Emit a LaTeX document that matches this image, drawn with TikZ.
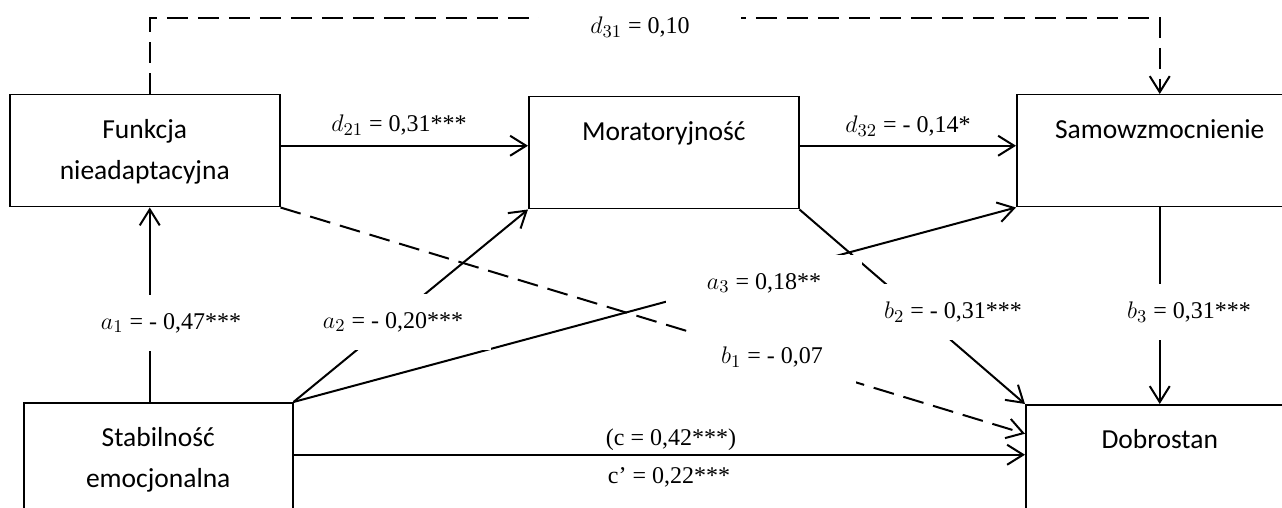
\documentclass[tikz,border=0pt]{standalone}
\usepackage{fontspec}
\setmainfont{Liberation Serif}
\newfontfamily\carlito{Carlito}
\usetikzlibrary{arrows.meta}
\DeclareMathSizes{12}{12}{9}{7}
\newcommand{\varfont}{\carlito\fontsize{13.75}{20.5}\selectfont}
\newcommand{\coeffont}{\fontsize{12}{14}\selectfont}
\tikzset{
  varblock/.style={rectangle,draw,line width=0.75pt,minimum height=56pt,inner sep=0pt,
    align=center,font=\varfont,anchor=north west},
  coef/.style={inner sep=1pt,font=\coeffont},
  coefmask/.style={coef,fill=white,inner xsep=14pt,inner ysep=0pt,minimum height=28pt},
  arrow/.style={-{Straight Barb[length=8pt,width=10pt]},line width=1pt},
  dasharrow/.style={arrow,dash pattern=on 10.5pt off 5pt}
}
\begin{document}
\begin{tikzpicture}[x=0.5pt,y=-0.5pt]
  \useasboundingbox (0,0) rectangle (1282,508);
  \clip (0,0) rectangle (1282,508);
  \node[varblock,minimum width=135pt] (fun) at (9,94) {Funkcja\strut\\nieadaptacyjna\strut};
  \node[varblock,minimum width=135pt] (mor) at (528,96) {Moratoryjność\strut\\\strut};
  \node[varblock,minimum width=143pt] (sam) at (1016,94) {Samowzmocnienie\strut\\\strut};
  \node[varblock,minimum width=134.5pt] (stab) at (23,402) {Stabilność\strut\\emocjonalna\strut};
  \node[varblock,minimum width=134pt] (dob) at (1025,404) {Dobrostan\strut\\\strut};
  \coordinate (d31corner) at (640,18);
  \coordinate (a1top) at ([xshift=2.5pt]fun.south);
  \draw[arrow] ([yshift=2.5pt]fun.east) -- ([yshift=3.5pt]mor.west);
  \draw[arrow] ([yshift=3.5pt]mor.east) -- ([yshift=2.5pt]sam.west);
  \draw[dasharrow] ([xshift=2.5pt]fun.north) |- (d31corner) -| (sam.north);
  \draw[arrow] (a1top |- stab.north) -- (a1top);
  \draw[arrow] (stab.north east) -- (mor.south west);
  \draw[arrow] (stab.north east) -- (sam.south west);
  \draw[dasharrow] (fun.south east) -- ([yshift=13.5pt]dob.west);
  \draw[arrow] (mor.south east) -- (dob.north west);
  \draw[arrow] (sam.south) -- (dob.north);
  \draw[arrow] ([yshift=2pt]stab.east) -- ([yshift=3pt]dob.west);
  \node[coefmask,inner xsep=25.5pt] (d31) at (640,27) {$d_{31}$ = 0,10};
  \node[coef] (d21) at (399,125) {$d_{21}$ = 0,31***};
  \node[coef] (d32) at (908,126) {$d_{32}$ = - 0,14*};
  \node[coefmask] (a1) at (171,323) {$a_1$ = - 0,47***};
  \node[coefmask] (a2) at (393,322) {$a_2$ = - 0,20***};
  \node[coefmask,inner xsep=20.5pt] (a3) at (764,283) {$a_3$ = 0,18**};
  \node[coefmask,inner xsep=16.5pt] (b1) at (772,357) {$b_1$ = - 0,07};
  \node[coefmask] (b2) at (953,312) {$b_2$ = - 0,31***};
  \node[coefmask] (b3) at (1189,312) {$b_3$ = 0,31***};
  \node[coef] (c) at (671,440) {(c = 0,42***)};
  \node[coef] (cp) at (669,477) {c’ = 0,22***};
\end{tikzpicture}
\end{document}
